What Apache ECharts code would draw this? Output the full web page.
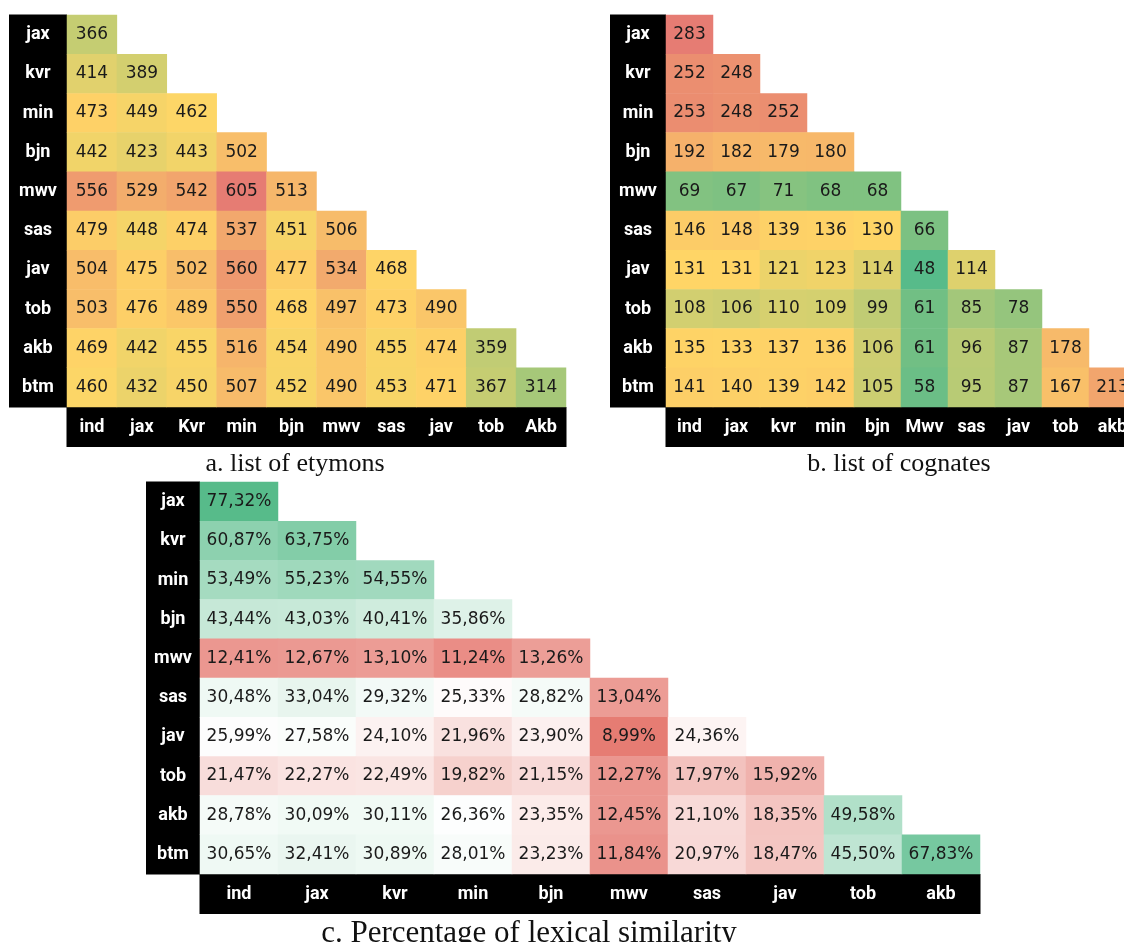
<!DOCTYPE html>
<html>
<head>
<meta charset="utf-8">
<script src="https://cdn.jsdelivr.net/npm/echarts@6/dist/echarts.min.js"></script>
<style>
  html, body { margin: 0; padding: 0; background: #fff; }
  #chart { width: 1124px; height: 942px; }
</style>
</head>
<body>
<div id="chart"></div>
<script>
// row / column labels
const rows = ['jax', 'kvr', 'min', 'bjn', 'mwv', 'sas', 'jav', 'tob', 'akb', 'btm'];
const colsA = ['ind', 'jax', 'Kvr', 'min', 'bjn', 'mwv', 'sas', 'jav', 'tob', 'Akb'];
const colsB = ['ind', 'jax', 'kvr', 'min', 'bjn', 'Mwv', 'sas', 'jav', 'tob', 'akb'];
const colsC = ['ind', 'jax', 'kvr', 'min', 'bjn', 'mwv', 'sas', 'jav', 'tob', 'akb'];

// a. list of etymons
const etymons = [
  [366],
  [414, 389],
  [473, 449, 462],
  [442, 423, 443, 502],
  [556, 529, 542, 605, 513],
  [479, 448, 474, 537, 451, 506],
  [504, 475, 502, 560, 477, 534, 468],
  [503, 476, 489, 550, 468, 497, 473, 490],
  [469, 442, 455, 516, 454, 490, 455, 474, 359],
  [460, 432, 450, 507, 452, 490, 453, 471, 367, 314]
];

// b. list of cognates
const cognates = [
  [283],
  [252, 248],
  [253, 248, 252],
  [192, 182, 179, 180],
  [69, 67, 71, 68, 68],
  [146, 148, 139, 136, 130, 66],
  [131, 131, 121, 123, 114, 48, 114],
  [108, 106, 110, 109, 99, 61, 85, 78],
  [135, 133, 137, 136, 106, 61, 96, 87, 178],
  [141, 140, 139, 142, 105, 58, 95, 87, 167, 213]
];

// c. percentage of lexical similarity
const similarity = [
  [77.32],
  [60.87, 63.75],
  [53.49, 55.23, 54.55],
  [43.44, 43.03, 40.41, 35.86],
  [12.41, 12.67, 13.10, 11.24, 13.26],
  [30.48, 33.04, 29.32, 25.33, 28.82, 13.04],
  [25.99, 27.58, 24.10, 21.96, 23.90, 8.99, 24.36],
  [21.47, 22.27, 22.49, 19.82, 21.15, 12.27, 17.97, 15.92],
  [28.78, 30.09, 30.11, 26.36, 23.35, 12.45, 21.10, 18.35, 49.58],
  [30.65, 32.41, 30.89, 28.01, 23.23, 11.84, 20.97, 18.47, 45.50, 67.83]
];

const GREEN = '#57bb8a', YELLOW = '#ffd666', RED = '#e67c73', WHITE = '#ffffff';

function toCells(matrix) {
  const out = [];
  matrix.forEach((row, i) => row.forEach((v, j) => out.push([j, i, v])));
  return out;
}

// colour ramp with uneven midpoint (like a spreadsheet 3-colour scale)
function hex(c) { return [1, 3, 5].map(i => parseInt(c.substr(i, 2), 16)); }
function ramp(stops, n) {
  const lo = stops[0][0], hi = stops[stops.length - 1][0];
  const out = [];
  for (let k = 0; k < n; k++) {
    const v = lo + (hi - lo) * k / (n - 1);
    let s = 0;
    while (s < stops.length - 2 && v > stops[s + 1][0]) s++;
    const a = stops[s], b = stops[s + 1];
    const t = Math.min(1, Math.max(0, (v - a[0]) / (b[0] - a[0])));
    const ca = hex(a[1]), cb = hex(b[1]);
    out.push('rgb(' + ca.map((x, i) => Math.round(x + (cb[i] - x) * t)).join(',') + ')');
  }
  return out;
}

const boxes = [
  { left: 67, top: 15, width: 499, height: 392, rowW: 58, cols: colsA },
  { left: 666, top: 15, width: 470, height: 392, rowW: 56, cols: colsB },
  { left: 200, top: 482, width: 780, height: 392, rowW: 54, cols: colsC }
];

const labelFont = { color: '#fff', fontFamily: 'Roboto', fontWeight: 'bold', fontSize: 18 };

const myChart = echarts.init(document.getElementById('chart'));
myChart.setOption({
  backgroundColor: '#fff',
  animation: false,
  grid: boxes.map(b => ({
    left: b.left, top: b.top, width: b.width, height: b.height,
    containLabel: false, outerBoundsMode: 'none'
  })),
  xAxis: boxes.map((b, i) => ({
    type: 'category',
    gridIndex: i,
    data: b.cols,
    position: 'bottom',
    axisLine: { show: false },
    axisTick: { show: false },
    splitLine: { show: false },
    axisLabel: Object.assign({
      interval: 0,
      margin: 0,
      backgroundColor: '#000',
      width: b.width / 10 + 1,
      height: 40,
      lineHeight: 40,
      align: 'center',
      verticalAlign: 'top'
    }, labelFont)
  })),
  yAxis: boxes.map((b, i) => ({
    type: 'category',
    gridIndex: i,
    data: rows,
    inverse: true,
    axisLine: { show: false },
    axisTick: { show: false },
    splitLine: { show: false },
    axisLabel: Object.assign({
      interval: 0,
      margin: b.rowW / 2,
      backgroundColor: '#000',
      width: b.rowW,
      height: 40,
      lineHeight: 40,
      align: 'center',
      verticalAlign: 'middle'
    }, labelFont)
  })),
  visualMap: [
    { seriesIndex: 0, dimension: 2, show: false, min: 180, max: 605,
      inRange: { color: ramp([[180, GREEN], [465, YELLOW], [605, RED]], 80) } },
    { seriesIndex: 1, dimension: 2, show: false, min: 48, max: 283,
      inRange: { color: ramp([[48, GREEN], [130, YELLOW], [283, RED]], 80) } },
    { seriesIndex: 2, dimension: 2, show: false, min: 8.99, max: 77.32,
      inRange: { color: ramp([[8.99, RED], [25.8, WHITE], [77.32, GREEN]], 80) } }
  ],
  series: [etymons, cognates, similarity].map((m, i) => ({
    type: 'heatmap',
    xAxisIndex: i,
    yAxisIndex: i,
    data: toCells(m),
    itemStyle: { borderWidth: 0 },
    emphasis: { disabled: true },
    label: {
      show: true,
      color: '#1a1a1a',
      fontFamily: 'DejaVu Sans',
      fontSize: 17,
      formatter: i === 2
        ? p => p.value[2].toFixed(2).replace('.', ',') + '%'
        : p => String(p.value[2])
    }
  })),
  graphic: [
    { type: 'text', x: 295, y: 464, style: { text: 'a. list of etymons', fontFamily: 'Liberation Serif', fontSize: 26, fill: '#111', align: 'center', verticalAlign: 'middle' } },
    { type: 'text', x: 899, y: 464, style: { text: 'b. list of cognates', fontFamily: 'Liberation Serif', fontSize: 26, fill: '#111', align: 'center', verticalAlign: 'middle' } },
    { type: 'text', x: 529, y: 934, style: { text: 'c. Percentage of lexical similarity', fontFamily: 'Liberation Serif', fontSize: 31, fill: '#111', align: 'center', verticalAlign: 'middle' } }
  ]
});
</script>
</body>
</html>
